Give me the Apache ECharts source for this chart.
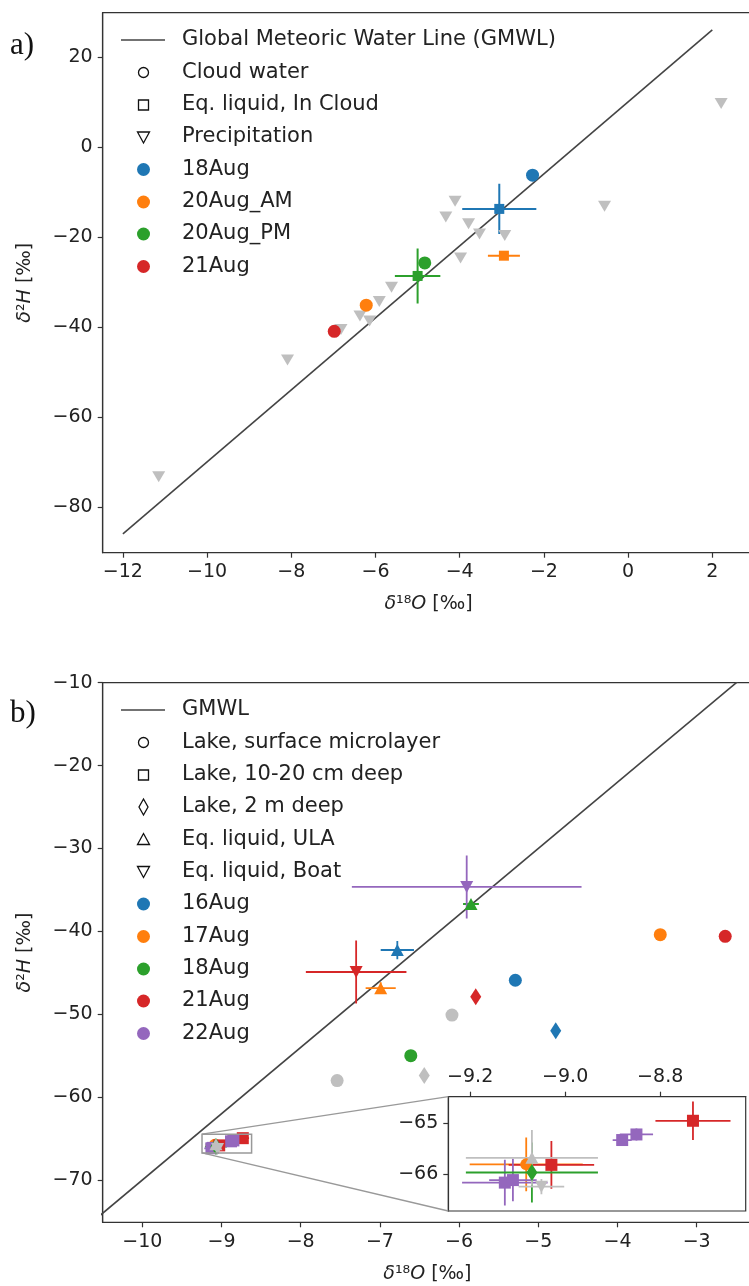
<!DOCTYPE html>
<html><head><meta charset="utf-8">
<script src="https://cdn.jsdelivr.net/npm/echarts@6/dist/echarts.min.js"></script>
<style>html,body{margin:0;padding:0;background:#fff;overflow:hidden;width:749px;height:1286px}#c{width:772px;height:1286px}</style>
</head><body><div id="c"></div>
<script>
// ================= Panel a data =================
const gmwlA_x = [-12, 2];
const gmwlA_y = [-86, 26];
const precipX = [2.21, -0.56, -4.11, -4.33, -3.79, -3.53, -2.93, -3.98, -5.62, -5.91, -6.37, -6.14, -6.82, -8.09, -11.15];
const precipY = [9.6, -13.2, -12.1, -15.6, -17.1, -19.4, -19.7, -24.7, -31.2, -34.4, -37.6, -38.7, -40.6, -47.4, -73.3];
const aDates = ['18Aug', '20Aug_AM', '20Aug_PM', '21Aug'];
const cloudDate = ['18Aug', '20Aug_AM', '20Aug_PM', '21Aug'];
const cloudX = [-2.27, -6.22, -4.83, -6.98];
const cloudY = [-6.3, -35.2, -25.8, -41.0];
const inCloudDate = ['18Aug', '20Aug_AM', '20Aug_PM'];
const inCloudX = [-3.06, -2.95, -5.0];
const inCloudY = [-13.8, -24.2, -28.7];
const inCloudXErr = [0.88, 0.38, 0.54];
const inCloudYErr = [5.6, 0.8, 6.1];
const aXTicks = [-12, -10, -8, -6, -4, -2, 0, 2];
const aYTicks = [-80, -60, -40, -20, 0, 20];

// ================= Panel b data =================
const gmwlB_x = [-11, -2];
const gmwlB_y = [-78, -6];
const bDates = ['16Aug', '17Aug', '18Aug', '21Aug', '22Aug'];
// Lake, surface microlayer (circles)
const smlDate = ['16Aug', '17Aug', '18Aug', '21Aug', 'other', 'other', '17Aug'];
const smlX = [-5.29, -3.46, -6.61, -2.64, -6.09, -7.54, -9.082];
const smlY = [-45.9, -40.4, -55.0, -40.6, -50.1, -58.0, -65.81];
const smlXErr = [0, 0.05, 0, 0, 0, 0, 0.119];
const smlYErr = [0, 0.3, 0, 0, 0, 0, 0.53];
// Lake, 10-20 cm deep (squares)
const d10Date = ['21Aug', '22Aug', '22Aug', '21Aug', '22Aug', '22Aug'];
const d10X = [-8.731, -8.850, -8.880, -9.029, -9.127, -9.110];
const d10Y = [-64.95, -65.22, -65.33, -65.82, -66.17, -66.12];
const d10XErr = [0.079, 0.035, 0.02, 0.09, 0.09, 0.05];
const d10YErr = [0.38, 0.12, 0.1, 0.47, 0.45, 0.42];
// Lake, 2 m deep (thin diamonds)
const d2Date = ['21Aug', '16Aug', 'other', '18Aug'];
const d2X = [-5.79, -4.78, -6.44, -9.070];
const d2Y = [-47.9, -52.0, -57.4, -65.97];
const d2XErr = [0, 0, 0, 0.139];
const d2YErr = [0, 0, 0, 0.59];
// Eq. liquid, ULA (up triangles)
const ulaDate = ['16Aug', '17Aug', '18Aug', 'other'];
const ulaX = [-6.78, -6.99, -5.85, -9.070];
const ulaY = [-42.25, -46.85, -36.7, -65.68];
const ulaXErr = [0.21, 0.19, 0.1, 0.139];
const ulaYErr = [1.1, 0.7, 0.5, 0.55];
// Eq. liquid, Boat (down triangles)
const boatDate = ['22Aug', '21Aug', 'other'];
const boatX = [-5.904, -7.30, -9.050];
const boatY = [-34.64, -44.9, -66.25];
const boatXErr = [1.45, 0.635, 0.048];
const boatYErr = [3.8, 3.8, 0.15];
const bXTicks = [-10, -9, -8, -7, -6, -5, -4, -3];
const bYTicks = [-70, -60, -50, -40, -30, -20, -10];
const insetXTicks = [-9.2, -9.0, -8.8];
const insetYTicks = [-66, -65];

// ================= styling =================
const colorsA = {'18Aug': '#1f77b4', '20Aug_AM': '#ff7f0e', '20Aug_PM': '#2ca02c', '21Aug': '#d62728'};
const colorsB = {'16Aug': '#1f77b4', '17Aug': '#ff7f0e', '18Aug': '#2ca02c', '21Aug': '#d62728', '22Aug': '#9467bd', 'other': '#bfbfbf'};
const GRAY = '#bfbfbf';
const palette = [];
function colorIndex(c) { let i = palette.indexOf(c); if (i < 0) { palette.push(c); i = palette.length - 1; } return i; }

const FONT = 'DejaVu Sans';
const AX = '#333';
const minus = v => String(v).replace('-', '\u2212');

function valueAxis(gridIndex, min, max, ticks, opts) {
  opts = opts || {};
  return Object.assign({
    type: 'value', gridIndex, min, max,
    splitLine: {show: false},
    axisLine: {show: true, onZero: false, lineStyle: {color: AX, width: 1.2}},
    axisTick: {show: true, length: 5, customValues: ticks, lineStyle: {color: AX, width: 1.2}},
    axisLabel: {customValues: ticks, fontSize: 19, fontFamily: FONT, color: '#222', margin: 10,
      formatter: opts.fmt || minus}
  }, opts.extra || {});
}
const nameRichX = {i: {fontStyle: 'italic', fontSize: 19, fontFamily: FONT, color: '#222'}, n: {fontSize: 19, fontFamily: FONT, color: '#222'}};
const xName = '{i|δ}{n|¹⁸}{i|O}{n| [‰]}';
const yName = '{i|δ}{n|²}{i|H}{n| [‰]}';

function errSeries(gridIndex, xs, ys, xe, ye, cols, lw) {
  const data = [];
  for (let k = 0; k < xs.length; k++) {
    if (xe[k] === 0 && ye[k] === 0) continue;
    data.push([xs[k], ys[k], xe[k], ye[k], colorIndex(cols[k])]);
  }
  return {
    type: 'custom', xAxisIndex: gridIndex, yAxisIndex: gridIndex, z: 2, clip: true, silent: true,
    data,
    renderItem: function (params, api) {
      const x = api.value(0), y = api.value(1), ex = api.value(2), ey = api.value(3);
      const c = palette[api.value(4)];
      const a = api.coord([x - ex, y]), b = api.coord([x + ex, y]);
      const p = api.coord([x, y - ey]), q = api.coord([x, y + ey]);
      return {type: 'group', children: [
        {type: 'line', shape: {x1: a[0], y1: a[1], x2: b[0], y2: b[1]}, style: {stroke: c, lineWidth: lw}},
        {type: 'line', shape: {x1: p[0], y1: p[1], x2: q[0], y2: q[1]}, style: {stroke: c, lineWidth: lw}}
      ]};
    }
  };
}
function scatterSeries(gridIndex, xs, ys, cols, symbol, size, rotate) {
  return {
    type: 'scatter', xAxisIndex: gridIndex, yAxisIndex: gridIndex, z: 3, clip: true, silent: true,
    symbol, symbolSize: size, symbolRotate: rotate || 0,
    data: xs.map((x, k) => ({value: [x, ys[k]], itemStyle: {color: cols[k], opacity: 1}}))
  };
}

// ================= grids =================
const A = {xmin: -12.48, xmax: 3.0, ymin: -90.2, ymax: 29.8};
const B = {xmin: -10.5, xmax: -2.3, ymin: -75.1, ymax: -10};
const I = {xmin: -9.246, xmax: -8.62, ymin: -66.73, ymax: -64.475};

const grids = [
  {left: 102.7, top: 12.7, width: (A.xmax - A.xmin) * 42.1, height: 540, show: true, borderColor: AX, borderWidth: 1.2, backgroundColor: '#fff'},
  {left: 102.7, top: 682.7, width: (B.xmax - B.xmin) * 79.2, height: 539.6, show: true, borderColor: AX, borderWidth: 1.2, backgroundColor: '#fff'},
  {left: 448.3, top: 1096.7, width: 297.4, height: 114.3, show: true, borderColor: AX, borderWidth: 1.2, backgroundColor: '#fff', z: 5}
];

const xAxes = [
  valueAxis(0, A.xmin, A.xmax, aXTicks, {extra: {name: xName, nameLocation: 'middle', nameGap: 42, nameTextStyle: {rich: nameRichX}}}),
  valueAxis(1, B.xmin, B.xmax, bXTicks, {extra: {name: xName, nameLocation: 'middle', nameGap: 42, nameTextStyle: {rich: nameRichX}}}),
  valueAxis(2, I.xmin, I.xmax, insetXTicks, {fmt: v => minus(v.toFixed(1)), extra: {position: 'top', z: 6}})
];
const yAxes = [
  valueAxis(0, A.ymin, A.ymax, aYTicks, {extra: {name: yName, nameLocation: 'middle', nameGap: 68, nameRotate: 90, nameTextStyle: {rich: nameRichX}}}),
  valueAxis(1, B.ymin, B.ymax, bYTicks, {extra: {name: yName, nameLocation: 'middle', nameGap: 68, nameRotate: 90, nameTextStyle: {rich: nameRichX}}}),
  valueAxis(2, I.ymin, I.ymax, insetYTicks, {extra: {z: 6}})
];

// ================= series =================
const series = [];
// panel a
series.push({type: 'line', xAxisIndex: 0, yAxisIndex: 0, showSymbol: false, silent: true, clip: true, z: 1,
  lineStyle: {color: '#444', width: 1.6}, data: gmwlA_x.map((x, k) => [x, gmwlA_y[k]])});
series.push(scatterSeries(0, precipX, precipY, precipX.map(() => GRAY), 'triangle', [13, 11], 180));
series.push(scatterSeries(0, cloudX, cloudY, cloudDate.map(d => colorsA[d]), 'circle', 13));
series.push(errSeries(0, inCloudX, inCloudY, inCloudXErr, inCloudYErr, inCloudDate.map(d => colorsA[d]), 2));
series.push(scatterSeries(0, inCloudX, inCloudY, inCloudDate.map(d => colorsA[d]), 'rect', 10));

// panel b (main + inset)
function inInset(x, y) { return x >= I.xmin && x <= I.xmax && y >= I.ymin && y <= I.ymax; }
function pick(arr, xs, ys) { return arr.filter((v, k) => inInset(xs[k], ys[k])); }
[1, 2].forEach(g => {
  const f = g === 2 ? (arr, xs, ys) => pick(arr, xs, ys) : (arr) => arr;
  const groups = [
    {x: smlX, y: smlY, xe: smlXErr, ye: smlYErr, d: smlDate, sym: 'circle', size: g === 2 ? 12 : 13, rot: 0},
    {x: d10X, y: d10Y, xe: d10XErr, ye: d10YErr, d: d10Date, sym: 'rect', size: 12, rot: 0},
    {x: d2X, y: d2Y, xe: d2XErr, ye: d2YErr, d: d2Date, sym: 'diamond', size: [11, 17], rot: 0},
    {x: ulaX, y: ulaY, xe: ulaXErr, ye: ulaYErr, d: ulaDate, sym: 'triangle', size: [13, 12], rot: 0},
    {x: boatX, y: boatY, xe: boatXErr, ye: boatYErr, d: boatDate, sym: 'triangle', size: [13, 12], rot: 180}
  ];
  if (g === 1) {
    series.push({type: 'line', xAxisIndex: 1, yAxisIndex: 1, showSymbol: false, silent: true, clip: true, z: 1,
      lineStyle: {color: '#444', width: 1.6}, data: gmwlB_x.map((x, k) => [x, gmwlB_y[k]])});
  }
  groups.forEach(G => {
    const xs = f(G.x, G.x, G.y), ys = f(G.y, G.x, G.y), xe = f(G.xe, G.x, G.y), ye = f(G.ye, G.x, G.y), ds = f(G.d, G.x, G.y);
    const cols = ds.map(d => colorsB[d]);
    const e = errSeries(g, xs, ys, xe, ye, cols, 1.8);
    if (g === 2) e.z = 6;
    series.push(e);
    const s = scatterSeries(g, xs, ys, cols, G.sym, G.size, G.rot);
    if (g === 2) s.z = 7;
    series.push(s);
  });
});

// ================= legends (graphic) =================
const LX = 143.5, TX = 182;
function legendSymbol(kind, y, color) {
  const open = {fill: 'rgba(0,0,0,0)', stroke: '#111', lineWidth: 1.3};
  switch (kind) {
    case 'line': return {type: 'line', shape: {x1: 121, y1: y, x2: 165, y2: y}, style: {stroke: '#444', lineWidth: 1.6}};
    case 'ocircle': return {type: 'circle', shape: {cx: LX, cy: y, r: 5}, style: open};
    case 'osquare': return {type: 'rect', shape: {x: LX - 5, y: y - 5, width: 10, height: 10}, style: open};
    case 'otridown': return {type: 'polygon', shape: {points: [[LX - 6, y - 5], [LX + 6, y - 5], [LX, y + 6]]}, style: open};
    case 'otriup': return {type: 'polygon', shape: {points: [[LX - 6, y + 5], [LX + 6, y + 5], [LX, y - 6]]}, style: open};
    case 'odiamond': return {type: 'polygon', shape: {points: [[LX, y - 8], [LX + 4.5, y], [LX, y + 8], [LX - 4.5, y]]}, style: open};
    case 'dot': return {type: 'circle', shape: {cx: LX, cy: y, r: 6.5}, style: {fill: color}};
  }
}
function legend(entries, ys) {
  const els = [];
  entries.forEach((e, k) => {
    els.push(legendSymbol(e.kind, ys[k], e.color));
    els.push({type: 'text', x: TX, y: ys[k], style: {text: e.label, font: '21px "DejaVu Sans"', fill: '#222', textVerticalAlign: 'middle', textAlign: 'left'}});
  });
  return els;
}
const legendA = [
  {kind: 'line', label: 'Global Meteoric Water Line (GMWL)'},
  {kind: 'ocircle', label: 'Cloud water'},
  {kind: 'osquare', label: 'Eq. liquid, In Cloud'},
  {kind: 'otridown', label: 'Precipitation'}
].concat(aDates.map(d => ({kind: 'dot', color: colorsA[d], label: d})));
const legendAY = [40, 72.5, 105, 137, 169.5, 202, 234, 266.5];
const legendB = [
  {kind: 'line', label: 'GMWL'},
  {kind: 'ocircle', label: 'Lake, surface microlayer'},
  {kind: 'osquare', label: 'Lake, 10-20 cm deep'},
  {kind: 'odiamond', label: 'Lake, 2 m deep'},
  {kind: 'otriup', label: 'Eq. liquid, ULA'},
  {kind: 'otridown', label: 'Eq. liquid, Boat'}
].concat(bDates.map(d => ({kind: 'dot', color: colorsB[d], label: d})));
const legendBY = [710, 742.5, 775, 807, 839.5, 871.5, 904, 936.5, 969, 1001, 1033.5];

const graphics = [].concat(legend(legendA, legendAY), legend(legendB, legendBY));
graphics.push({type: 'text', x: 10, y: 46, style: {text: 'a)', font: '31px "Liberation Serif"', fill: '#111', textVerticalAlign: 'middle'}});
graphics.push({type: 'text', x: 10, y: 714, style: {text: 'b)', font: '31px "Liberation Serif"', fill: '#111', textVerticalAlign: 'middle'}});

const chart = echarts.init(document.getElementById('c'), null, {renderer: 'canvas'});
chart.setOption({
  animation: false,
  backgroundColor: '#fff',
  grid: grids, xAxis: xAxes, yAxis: yAxes, series,
  graphic: {elements: graphics}
});

// inset indicator rectangle and connectors, placed through the axes' own conversion
const c1 = chart.convertToPixel({gridIndex: 1}, [I.xmin, I.ymax]);
const c2 = chart.convertToPixel({gridIndex: 1}, [I.xmax, I.ymin]);
const i1 = chart.convertToPixel({gridIndex: 2}, [I.xmin, I.ymax]);
const i2 = chart.convertToPixel({gridIndex: 2}, [I.xmin, I.ymin]);
graphics.push({type: 'rect', z: 10, shape: {x: c1[0], y: c1[1], width: c2[0] - c1[0], height: c2[1] - c1[1]}, style: {fill: 'rgba(0,0,0,0)', stroke: '#999', lineWidth: 1.5}});
graphics.push({type: 'line', z: 10, shape: {x1: c1[0], y1: c1[1], x2: i1[0], y2: i1[1]}, style: {stroke: '#999', lineWidth: 1.3}});
graphics.push({type: 'line', z: 10, shape: {x1: c1[0], y1: c2[1], x2: i2[0], y2: i2[1]}, style: {stroke: '#999', lineWidth: 1.3}});
chart.setOption({graphic: {elements: graphics}}, {replaceMerge: ['graphic']});
</script>
</body></html>
